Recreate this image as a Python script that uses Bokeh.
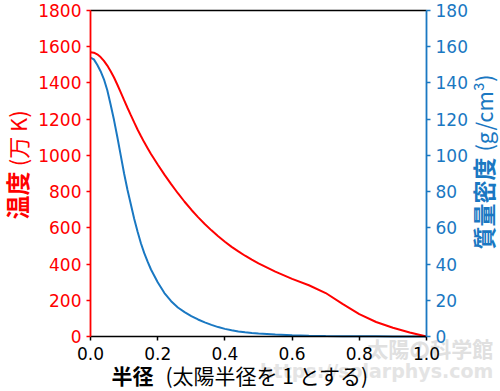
from bokeh.plotting import figure
from bokeh.models import Range1d, LinearAxis, FixedTicker, Label, PrintfTickFormatter
from bokeh.embed import file_html
from bokeh.resources import INLINE
import math

# ---- data ----
radius = [0.0, 0.01, 0.02, 0.03, 0.04, 0.05, 0.06, 0.07, 0.08, 0.09, 0.10, 0.11, 0.12,
          0.13, 0.14, 0.15, 0.16, 0.17, 0.18, 0.20, 0.22, 0.24, 0.26, 0.28, 0.30, 0.32,
          0.34, 0.36, 0.38, 0.40, 0.42, 0.44, 0.46, 0.48, 0.50, 0.55, 0.60, 0.65, 0.70,
          0.75, 0.80, 0.85, 0.90, 0.95, 1.0]
temperature = [1570, 1567, 1558, 1543, 1522, 1496, 1465, 1430, 1390, 1348, 1305, 1263, 1222,
               1182, 1143, 1107, 1072, 1040, 1008, 950, 894, 841, 791, 744, 700, 659,
               621, 586, 553, 523, 495, 470, 446, 424, 404, 358, 318, 283, 240,
               180, 124, 80, 48, 22, 0]
density = [154, 153, 150, 146.5, 142, 136, 128, 119.5, 110, 100, 90, 81, 73,
           65, 58, 51.5, 46, 41.3, 37, 30, 24, 19.5, 16, 13.5, 11.3, 9.4,
           7.8, 6.4, 5.2, 4.2, 3.4, 2.8, 2.3, 1.9, 1.6, 1.1, 0.7, 0.45, 0.28,
           0.18, 0.11, 0.07, 0.04, 0.02, 0.0]
x_ticks = [0.0, 0.2, 0.4, 0.6, 0.8, 1.0]
temp_ticks = [0, 200, 400, 600, 800, 1000, 1200, 1400, 1600, 1800]
dens_ticks = [0, 20, 40, 60, 80, 100, 120, 140, 160, 180]

RED = "#ff0000"
BLUE = "#1a78c2"
CJK = "Noto Sans CJK JP"
NUM = "DejaVu Sans"

W, H = 500, 391
# plot box position inside the canvas (pixels)
FL, FR, FT, FB = 90, 426, 10, 336
xs = 1.0 / (FR - FL)           # data per px (x)
ys = 1800.0 / (FB - FT)        # data per px (temperature)
x_range = Range1d(-FL * xs, (W - FL) * xs)
y_range = Range1d(-(H - FB) * ys, 1800 + FT * ys)
d_range = Range1d(-(H - FB) * ys / 10, 180 + FT * ys / 10)

p = figure(width=W, height=H, output_backend="svg", toolbar_location=None,
           x_range=x_range, y_range=y_range,
           min_border_left=0, min_border_right=0, min_border_top=0, min_border_bottom=0)
p.extra_y_ranges = {"dens": d_range}
p.xgrid.visible = False
p.ygrid.visible = False
p.outline_line_color = None
p.background_fill_color = "white"
p.border_fill_color = "white"

def style(ax, color, ticks):
    ax.ticker = FixedTicker(ticks=ticks)
    ax.axis_line_color = color
    ax.axis_line_width = 1.8
    ax.major_tick_line_color = color
    ax.major_tick_line_width = 1.5
    ax.major_tick_out = 4
    ax.major_tick_in = 0
    ax.minor_tick_out = 0
    ax.minor_tick_in = 0
    ax.major_label_text_color = color
    ax.major_label_text_font = NUM
    ax.major_label_text_font_size = "17px"
    ax.major_label_standoff = 5

xa = p.xaxis[0]
style(xa, "black", x_ticks)
xa.axis_line_width = 1.5
xa.formatter = PrintfTickFormatter(format="%.1f")
xa.major_label_standoff = 6
xa.fixed_location = 0
xa.bounds = (0, 1)

ya = p.yaxis[0]
style(ya, RED, temp_ticks)
ya.fixed_location = 0
ya.bounds = (0, 1800)

ra = LinearAxis(y_range_name="dens")
style(ra, BLUE, dens_ticks)
ra.fixed_location = 1
ra.bounds = (0, 180)
p.add_layout(ra, "right")

top = LinearAxis(ticker=FixedTicker(ticks=[]))
top.axis_line_color = "black"
top.axis_line_width = 1.5
top.major_tick_line_color = None
top.minor_tick_line_color = None
top.major_label_text_font_size = "0px"
top.fixed_location = 1800
top.bounds = (0, 1)
p.add_layout(top, "above")

# watermark
p.add_layout(Label(x=1.199, y=-61, text="太陽の科学館", text_font=CJK, text_font_style="bold",
                   text_font_size="21px", text_color="#e0e0e0", text_align="right",
                   text_baseline="middle", level="underlay"))
p.add_layout(Label(x=1.199, y=-193, text="https://solarphys.com", text_font=NUM,
                   text_font_style="bold", text_font_size="19px", text_color="#e4e4e4",
                   text_align="right", text_baseline="middle", level="underlay"))

p.line(radius, density, line_color=BLUE, line_width=2, y_range_name="dens")
p.line(radius, temperature, line_color=RED, line_width=2)

# x axis label
p.add_layout(Label(x=0.1875, y=-215, text="半径", text_font=CJK, text_font_style="bold",
                   text_font_size="21px", text_color="black", text_align="right",
                   text_baseline="middle"))
p.add_layout(Label(x=0.2232, y=-215, text="(太陽半径を 1 とする)", text_font=CJK,
                   text_font_size="21px", text_color="black", text_align="left",
                   text_baseline="middle"))

# left axis label (reads bottom to top)
p.add_layout(Label(x=-0.2202, y=911, angle=math.pi / 2, text="温度", text_font=CJK,
                   text_font_style="bold", text_font_size="24px", text_color=RED,
                   text_align="right", text_baseline="middle"))
p.add_layout(Label(x=-0.2202, y=940, angle=math.pi / 2, text="(万 K)", text_font=CJK,
                   text_font_size="22px", text_color=RED, text_align="left",
                   text_baseline="middle"))

# right axis label
p.add_layout(Label(x=1.1667, y=988, angle=math.pi / 2, text="質量密度", text_font=CJK,
                   text_font_style="bold", text_font_size="23px", text_color=BLUE,
                   text_align="right", text_baseline="middle"))
p.add_layout(Label(x=1.1667, y=1021, angle=math.pi / 2, text="(g/cm³)", text_font=CJK,
                   text_font_size="22px", text_color=BLUE, text_align="left",
                   text_baseline="middle"))

open("out.html", "w").write(file_html(p, INLINE))
